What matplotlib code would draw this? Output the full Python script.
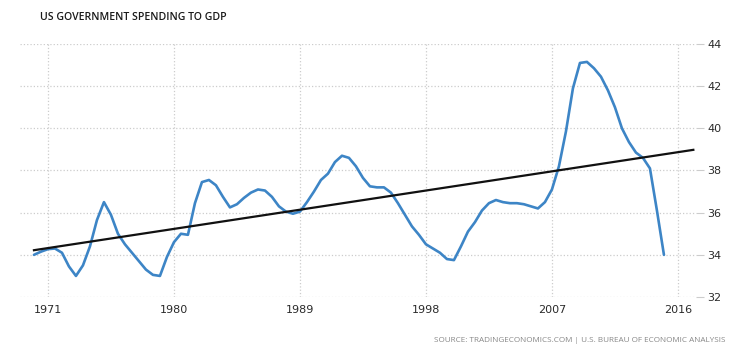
import numpy as np
import matplotlib
matplotlib.use("Agg")
import matplotlib.pyplot as plt

# half-yearly readings, 1970 .. 2015
years = np.arange(1970, 2015.5, 0.5)
spending = [34.0, 34.15, 34.27, 34.3, 34.1, 33.45, 33.0, 33.5, 34.4, 35.65,
            36.5, 35.9, 35.0, 34.5, 34.1, 33.7, 33.3, 33.05, 33.0, 33.9,
            34.6, 35.0, 34.95, 36.45, 37.45, 37.55, 37.3, 36.75, 36.25, 36.4,
            36.7, 36.95, 37.1, 37.05, 36.75, 36.3, 36.05, 35.95, 36.05, 36.5,
            37.0, 37.55, 37.85, 38.4, 38.7, 38.6, 38.2, 37.65, 37.25, 37.2,
            37.2, 36.95, 36.45, 35.9, 35.35, 34.95, 34.5, 34.3, 34.1, 33.8,
            33.75, 34.4, 35.1, 35.55, 36.1, 36.45, 36.6, 36.5, 36.45, 36.45,
            36.4, 36.3, 36.2, 36.5, 37.1, 38.2, 39.85, 41.9, 43.1, 43.15,
            42.85, 42.45, 41.8, 41.0, 40.0, 39.35, 38.85, 38.6, 38.1, 36.1,
            34.0]

trend_years = [1970, 2017.1]
trend_vals = [34.22, 38.98]

xticks = [1971, 1980, 1989, 1998, 2007, 2016]
yticks = [32, 34, 36, 38, 40, 42, 44]

fig = plt.figure(figsize=(7.39, 3.53), dpi=100)
ax = fig.add_axes([0.027, 0.1586, 0.915, 0.7168])

ax.plot(years, spending, color='#3d85c6', lw=1.9, solid_capstyle='round',
        solid_joinstyle='round', zorder=3)
ax.plot(trend_years, trend_vals, color='#111111', lw=1.6, zorder=4)

ax.set_xlim(1969.0, 2017.3)
ax.set_ylim(32, 44)
ax.set_xticks(xticks)
ax.set_yticks(yticks)
ax.yaxis.tick_right()
ax.grid(True, color='#cccccc', linestyle=':', linewidth=0.9)
for s in ax.spines.values():
    s.set_visible(False)
ax.tick_params(axis='x', length=0, pad=6, labelsize=8, labelcolor='#2a2a2a')
ax.tick_params(axis='y', length=6, color='#cccccc', pad=2, labelsize=8, labelcolor='#2a2a2a')

fig.text(40/739, 1 - 17/353, 'US GOVERNMENT SPENDING TO GDP', fontsize=7.6,
         color='#1a1a1a', va='center', ha='left', family='Open Sans', weight='semibold')
fig.text(725/739, 1 - 340/353,
         'SOURCE: TRADINGECONOMICS.COM | U.S. BUREAU OF ECONOMIC ANALYSIS',
         fontsize=5.9, color='#888888', va='center', ha='right', family='Open Sans')

fig.savefig('out.png', dpi=100)
